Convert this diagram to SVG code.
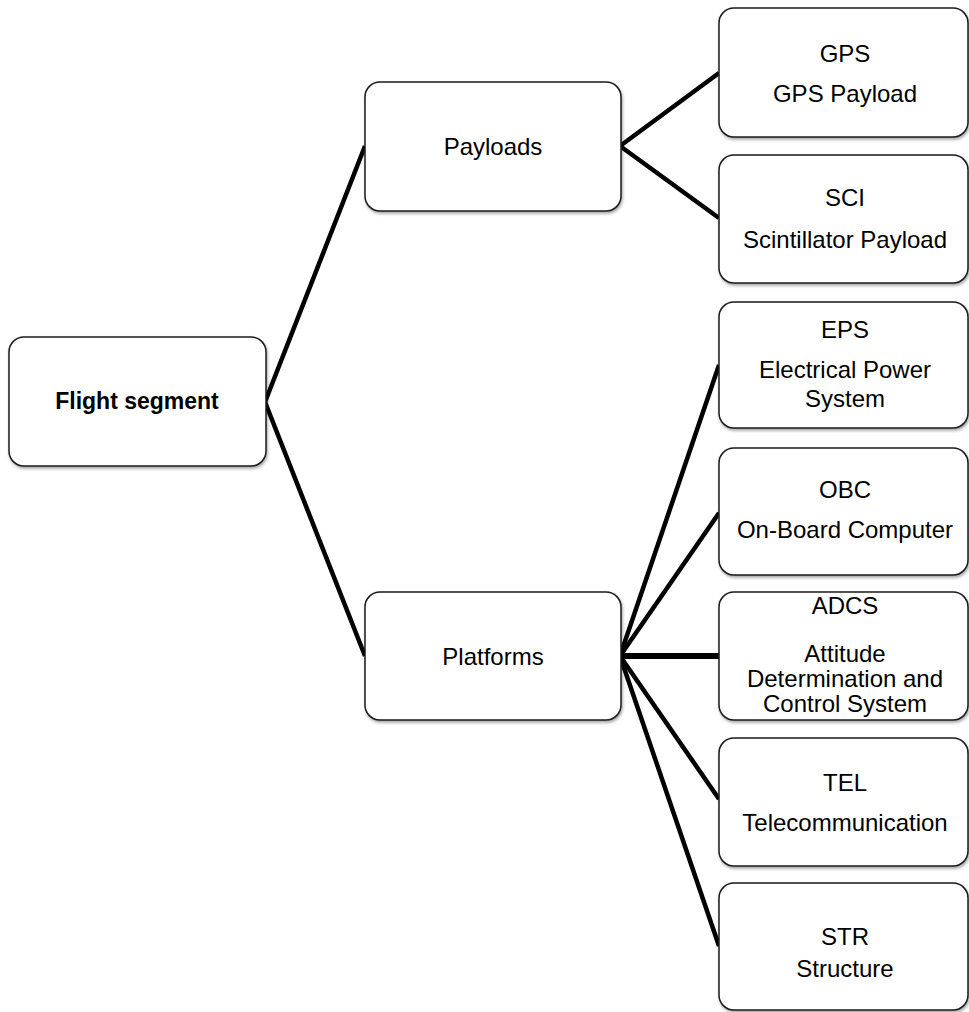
<svg xmlns="http://www.w3.org/2000/svg" width="969" height="1012" viewBox="0 0 969 1012">
<style>
.box{fill:#fff;stroke:#1a1a1a;stroke-width:1.5;filter:url(#sh)}
.t{font-family:"Liberation Sans",Arial,sans-serif;font-size:24px;fill:#000;text-anchor:middle}
.b{font-weight:bold;font-size:23px}
.c{stroke:#000;stroke-width:4.5;fill:none;stroke-linecap:butt}
</style>
<defs>
<filter id="sh" x="-10%" y="-10%" width="120%" height="130%">
<feDropShadow dx="1" dy="2" stdDeviation="1.5" flood-color="#000" flood-opacity="0.35"/>
</filter>
</defs>
<rect width="969" height="1012" fill="#fff"/>
<g id="connectors">
<line class="c" x1="265" y1="402" x2="365" y2="146"/>
<line class="c" x1="265" y1="402" x2="365" y2="656"/>
<line class="c" x1="620" y1="146" x2="719" y2="73"/>
<line class="c" x1="620" y1="146" x2="719" y2="218"/>
<line class="c" x1="620" y1="656" x2="719" y2="365"/>
<line class="c" x1="620" y1="656" x2="719" y2="513"/>
<line class="c" x1="620" y1="656" x2="719" y2="656" style="stroke-width:6"/>
<line class="c" x1="620" y1="656" x2="719" y2="799"/>
<line class="c" x1="620" y1="656" x2="719" y2="946"/>
</g>
<g id="flight-segment">
<rect class="box" x="9" y="337" width="257" height="129" rx="15"/>
<text class="t b" x="137" y="409">Flight segment</text>
</g>
<g id="payloads">
<rect class="box" x="365" y="82" width="256" height="129" rx="15"/>
<text class="t" x="493" y="155">Payloads</text>
</g>
<g id="platforms">
<rect class="box" x="365" y="592" width="256" height="128" rx="15"/>
<text class="t" x="493" y="665">Platforms</text>
</g>
<g id="gps">
<rect class="box" x="719" y="8" width="249" height="129" rx="15"/>
<text class="t" x="845" y="62">GPS</text>
<text class="t" x="845" y="102">GPS Payload</text>
</g>
<g id="sci">
<rect class="box" x="719" y="155" width="249" height="128" rx="15"/>
<text class="t" x="845" y="206">SCI</text>
<text class="t" x="845" y="248">Scintillator Payload</text>
</g>
<g id="eps">
<rect class="box" x="719" y="302" width="249" height="126" rx="15"/>
<text class="t" x="845" y="338">EPS</text>
<text class="t" x="845" y="378">Electrical Power</text>
<text class="t" x="845" y="407">System</text>
</g>
<g id="obc">
<rect class="box" x="719" y="448" width="249" height="127" rx="15"/>
<text class="t" x="845" y="498">OBC</text>
<text class="t" x="845" y="538">On-Board Computer</text>
</g>
<g id="adcs">
<rect class="box" x="719" y="592" width="249" height="128" rx="15"/>
<text class="t" x="845" y="614">ADCS</text>
<text class="t" x="845" y="662">Attitude</text>
<text class="t" x="845" y="687">Determination and</text>
<text class="t" x="845" y="712">Control System</text>
</g>
<g id="tel">
<rect class="box" x="719" y="738" width="249" height="128" rx="15"/>
<text class="t" x="845" y="791">TEL</text>
<text class="t" x="845" y="831">Telecommunication</text>
</g>
<g id="str">
<rect class="box" x="719" y="883" width="249" height="127" rx="15"/>
<text class="t" x="845" y="945">STR</text>
<text class="t" x="845" y="977">Structure</text>
</g>
</svg>
